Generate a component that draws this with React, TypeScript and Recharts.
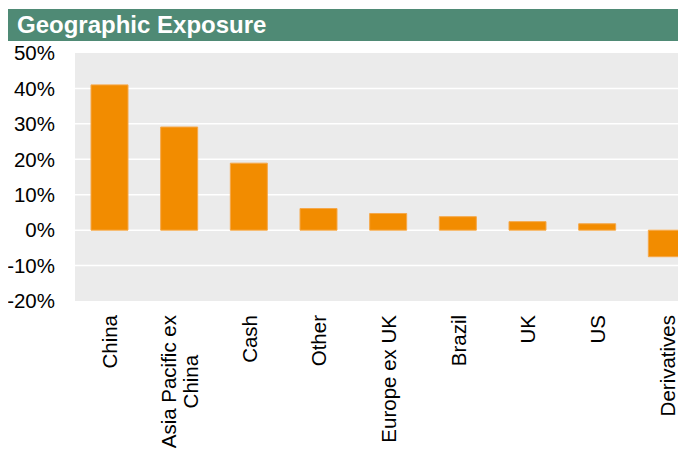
import { BarChart, Bar, XAxis, YAxis, CartesianGrid } from "recharts";

const categories = [
  "China",
  "Asia Pacific ex China",
  "Cash",
  "Other",
  "Europe ex UK",
  "Brazil",
  "UK",
  "US",
  "Derivatives",
];
const exposure = [41.0, 29.1, 18.9, 6.1, 4.7, 3.8, 2.4, 1.8, -7.5];
const yTicks = [-20, -10, 0, 10, 20, 30, 40, 50];
const gridValues = [-10, 0, 10, 20, 30, 40];

const data = categories.map((name, i) => ({ name, value: exposure[i] }));

const FONT = '"Liberation Sans", Arial, sans-serif';
const LABEL_SIZE = 20.5;

let ctx: CanvasRenderingContext2D | null = null;
function measure(text: string) {
  if (!ctx) {
    ctx = document.createElement("canvas").getContext("2d");
  }
  if (!ctx) return text.length * LABEL_SIZE * 0.5;
  ctx.font = `${LABEL_SIZE}px "Liberation Sans"`;
  return ctx.measureText(text).width;
}

// wrap long category names the way the spreadsheet did
function wrapLabel(text: string, maxWidth = 140) {
  const words = text.split(" ");
  const lines: string[] = [];
  let cur = "";
  for (const w of words) {
    const next = cur ? cur + " " + w : w;
    if (cur && measure(next) > maxWidth) {
      lines.push(cur);
      cur = w;
    } else {
      cur = next;
    }
  }
  if (cur) lines.push(cur);
  return lines;
}

function CategoryTick(props: any) {
  const { x, y, payload } = props;
  const lines = wrapLabel(String(payload.value));
  const top = y + 14;
  const lineH = 22;
  if (lines.length === 1) {
    return (
      <g transform={`translate(${x},${top}) rotate(-90)`}>
        <text x={0} y={0} dy="0.36em" textAnchor="end" fill="#000" fontSize={LABEL_SIZE} fontFamily={FONT}>
          {lines[0]}
        </text>
      </g>
    );
  }
  const w = Math.max(...lines.map(measure));
  return (
    <g transform={`translate(${x},${top}) rotate(-90)`}>
      {lines.map((l, i) => (
        <text
          key={i}
          x={-w / 2}
          y={(i - (lines.length - 1) / 2) * lineH}
          dy="0.36em"
          textAnchor="middle"
          fill="#000"
          fontSize={LABEL_SIZE}
          fontFamily={FONT}
        >
          {l}
        </text>
      ))}
    </g>
  );
}

export default function App() {
  return (
    <div
      style={{
        position: "absolute",
        left: 0,
        top: 0,
        width: 678,
        height: 450,
        overflow: "hidden",
        background: "#fff",
      }}
    >
      <div
        style={{
          position: "absolute",
          left: 8,
          top: 9,
          width: 670,
          height: 32,
          background: "#4F8A75",
          color: "#fff",
          fontFamily: FONT,
          fontWeight: "bold",
          fontSize: 24,
          lineHeight: "32px",
          paddingLeft: 9,
          boxSizing: "border-box",
        }}
      >
        Geographic Exposure
      </div>
      <div style={{ position: "absolute", left: 8, top: 41 }}>
        <BarChart
          width={694}
          height={409}
          data={data}
          margin={{ top: 12, right: 0, bottom: 0, left: 0 }}
          barSize={37}
        >
          <CartesianGrid
            vertical={false}
            fill="#EBEBEB"
            stroke="#fff"
            strokeWidth={1.5}
            horizontalValues={gridValues}
          />
          <XAxis
            dataKey="name"
            interval={0}
            height={149}
            axisLine={false}
            tickLine={false}
            tickSize={0}
            tickMargin={0}
            tick={<CategoryTick />}
          />
          <YAxis
            width={67}
            domain={[-20, 50]}
            ticks={yTicks}
            tickFormatter={(v: number) => `${v}%`}
            axisLine={false}
            tickLine={false}
            tickSize={0}
            tickMargin={20}
            tick={{ fill: "#000", fontSize: LABEL_SIZE, fontFamily: FONT }}
          />
          <Bar
            dataKey="value"
            fill="#F28C00"
            stroke="#F5A84A"
            strokeWidth={1}
            isAnimationActive={false}
          />
        </BarChart>
      </div>
    </div>
  );
}
